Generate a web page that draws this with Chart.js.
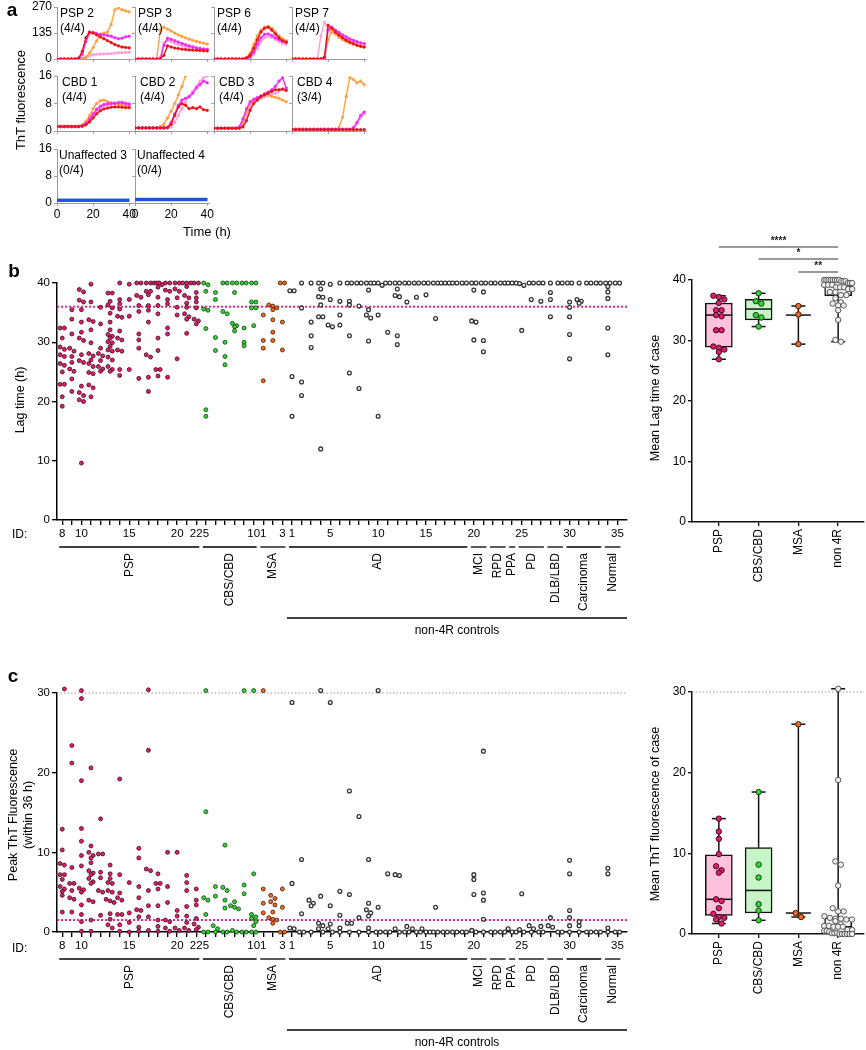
<!DOCTYPE html>
<html lang="en">
<head>
<meta charset="UTF-8">
<title>Tau seeding – ThT assay</title>
<script src="https://cdn.jsdelivr.net/npm/chart.js"></script>
<style>
  body { margin: 0; background: #fff; font-family: 'Liberation Sans', Arial, sans-serif; color: #000; }
  #fig { position: relative; width: 866px; height: 1050px; overflow: hidden; }
  #fig canvas { position: absolute; }
  .t { position: absolute; white-space: nowrap; line-height: 1; }
  .panel { font-weight: bold; font-size: 19px; }
</style>
</head>
<body>
<div id="fig"></div>
<script>
// ---------- panel a: ThT curves (every 2 h) ----------
const hours = [0,2,4,6,8,10,12,14,16,18,20,22,24,26,28,30,32,34,36,38,40];
// replicate order in every block: pink, orange, magenta, red (last one drawn on top)
const psp2 = [
  [0,0,0,0,0,0,0,0,5,15,22,25,25,26,27,28,30,32,33,34,35],
  [0,0,0,0,0,0,0,3,10,30,60,95,125,135,140,180,255,265,255,250,245],
  [0,0,0,0,0,0,0,25,90,135,138,132,128,125,122,118,110,105,108,115,118],
  [0,0,0,0,0,0,5,40,110,140,135,125,115,105,95,85,75,68,62,60,58]
];
const psp3 = [
  [0,0,0,0,0,0,0,10,85,95,90,82,75,70,65,60,57,54,52,50,48],
  [0,0,0,0,0,0,0,150,165,155,145,135,125,117,110,103,97,92,87,82,78],
  [0,0,0,0,0,0,0,0,70,108,102,95,88,80,74,68,63,58,55,52,50],
  [0,0,0,0,0,0,0,0,20,68,62,57,54,51,49,47,46,45,44,43,42]
];
const psp6 = [
  [0,0,0,0,0,0,0,0,0,0,5,25,55,90,110,118,112,100,90,80,75],
  [0,0,0,0,0,0,0,0,0,8,30,75,120,150,165,170,160,140,120,105,95],
  [0,0,0,0,0,0,0,0,0,0,10,35,75,110,128,130,122,110,100,92,85],
  [0,0,0,0,0,0,0,0,0,5,20,55,100,140,160,165,150,130,110,95,88]
];
const psp7 = [
  [0,0,0,0,0,0,0,0,120,190,160,140,130,120,112,105,98,92,86,80,76],
  [0,0,0,0,0,0,0,0,0,0,100,145,130,112,100,90,82,76,70,66,62],
  [0,0,0,0,0,0,0,0,0,5,150,165,150,138,125,115,105,97,90,84,80],
  [0,0,0,0,0,0,0,0,0,10,175,160,140,125,110,98,88,80,72,66,62]
];
const cbd1 = [
  [1.3,1.3,1.3,1.3,1.3,1.3,1.3,1.5,2,3,4.5,5.8,6.7,7.3,7.6,7.8,8,8.3,8.5,8.2,8],
  [1.3,1.3,1.3,1.3,1.3,1.3,1.4,1.8,2.8,4.5,6.5,8,8.8,9,8.6,8.2,8,7.8,7.6,7.4,7.2],
  [1.3,1.3,1.3,1.3,1.3,1.3,1.3,1.5,2.2,3.5,5,6.3,7.2,7.7,7.9,8,8.1,8.2,8.2,8,7.8],
  [1.3,1.3,1.3,1.3,1.3,1.3,1.3,1.4,1.8,2.6,3.8,5,5.9,6.4,6.7,6.9,7,7,6.9,6.8,6.8]
];
const cbd2 = [
  [0.9,0.9,0.9,0.9,0.9,0.9,0.9,0.9,0.9,0.9,1.2,2.5,4.5,6.5,8.5,10,11.5,13,14.5,15.5,16],
  [0.9,0.9,0.9,0.9,0.9,0.9,0.9,1.2,2,3.8,5.8,8,10.5,13,16,null,null,null,null,null,null],
  [0.9,0.9,0.9,0.9,0.9,0.9,0.9,0.9,0.9,1,2.5,5,7.5,9,9.5,10,11,12.5,13.5,14.5,14],
  [0.9,0.9,0.9,0.9,0.9,0.9,0.9,0.9,0.9,1,2,4.5,7,8,7.5,6.5,6.8,6.5,7,6.2,6]
];
const cbd3 = [
  [0.8,0.8,0.8,0.8,0.8,0.8,0.8,0.9,2,4.5,7,8.5,9,9.5,10,10.3,10.6,11,11.5,12,12],
  [0.8,0.8,0.8,0.8,0.8,0.8,0.8,1,2.5,5.5,8,9,9.5,10,10.5,10.5,10,9.8,9.5,9,8.5],
  [0.8,0.8,0.8,0.8,0.8,0.8,0.8,1.2,3.5,6.5,8.5,9.2,9.7,10.2,10.8,11.3,12,13,14.5,15.5,12.5],
  [0.8,0.8,0.8,0.8,0.8,0.8,0.8,0.8,1.2,3,6,8,9,10,10.5,11,11.5,12,12,12.2,11.8]
];
const cbd4 = [
  [0.5,0.5,0.5,0.5,0.5,0.5,0.5,0.5,0.5,0.5,0.5,0.5,0.5,0.5,0.5,0.5,0.5,0.8,2,3.8,5],
  [0.5,0.5,0.5,0.5,0.5,0.5,0.5,0.5,0.5,0.5,0.5,0.5,0.5,1,4,10,15.5,15,14,14.5,13.5],
  [0.5,0.5,0.5,0.5,0.5,0.5,0.5,0.5,0.5,0.5,0.5,0.5,0.5,0.5,0.5,0.5,0.5,1,2.5,4.5,5.5],
  [0.4,0.4,0.4,0.4,0.4,0.4,0.4,0.4,0.4,0.4,0.4,0.4,0.4,0.4,0.4,0.4,0.4,0.4,0.4,0.4,0.4]
];
// unaffected controls: four blue/green replicates
const unaff3 = [
  [0.85,0.85,0.85,0.85,0.85,0.85,0.85,0.85,0.85,0.85,0.85,0.85,0.85,0.85,0.85,0.85,0.85,0.85,0.85,0.85,0.85],
  [0.7,0.7,0.7,0.7,0.7,0.7,0.7,0.7,0.7,0.7,0.7,0.7,0.7,0.7,0.7,0.7,0.7,0.7,0.7,0.7,0.7],
  [0.9,0.9,0.9,0.9,0.9,0.9,0.9,0.9,0.9,0.9,0.9,0.9,0.9,0.9,0.9,0.9,0.9,0.9,0.9,0.9,0.9],
  [0.8,0.8,0.8,0.8,0.8,0.8,0.8,0.8,0.8,0.8,0.8,0.8,0.8,0.8,0.8,0.8,0.8,0.8,0.8,0.8,0.8]
];
const unaff4 = [
  [1.2,1.2,1.2,1.2,1.2,1.2,1.2,1.2,1.2,1.2,1.2,1.2,1.2,1.2,1.2,1.2,1.2,1.2,1.2,1.2,1.2],
  [0.9,0.9,0.9,0.9,0.9,0.9,0.9,0.9,0.9,0.9,0.9,0.9,0.9,0.9,0.9,0.9,0.9,0.9,0.9,0.9,0.9],
  [1.1,1.1,1.1,1.1,1.1,1.1,1.1,1.1,1.1,1.1,1.1,1.1,1.1,1.1,1.1,1.1,1.1,1.1,1.1,1.1,1.1],
  [1.0,1.0,1.0,1.0,1.0,1.0,1.0,1.0,1.0,1.0,1.0,1.0,1.0,1.0,1.0,1.0,1.0,1.0,1.0,1.0,1.0]
];
const aNames = ['PSP 2','PSP 3','PSP 6','PSP 7','CBD 1','CBD 2','CBD 3','CBD 4','Unaffected 3','Unaffected 4'];
const aFracs = ['(4/4)','(4/4)','(4/4)','(4/4)','(4/4)','(4/4)','(4/4)','(3/4)','(0/4)','(0/4)'];

// ---------- panels b/c: per-case replicates ----------
const pspIds = [8,9,10,11,12,13,14,15,16,17,18,19,20,21,22];
const cbsIds = [5,6,7,8,9,10];
const msaIds = [1,2,3];
const ctrlIds = [1,2,3,4,5,6,7,8,9,10,11,12,13,14,15,16,17,18,19,20,21,22,23,24,25,26,27,28,29,30,31,32,33,34,35];
const pspShown = [8,10,15,20,22];
const cbsShown = [5,10];
const msaShown = [1,3];
const ctrlShown = [1,5,10,15,20,25,30,35];
const groupNames = ['PSP','CBS/CBD','MSA','AD','MCI','RPD','PPA','PD','DLB/LBD','Carcinoma','Normal'];
const groupSizes = [15,6,3,19,2,2,1,3,2,4,2];

// lag time (h), one list per case
const lagPSP = [
  [32.4,32.4,30.7,29.2,28.8,27.9,27.6,26.4,26.1,25.0,22.9,22.9,20.8,19.2],
  [35.5,33.9,31.4,29.0,28.5,27.6,26.6,25.5,25.1,23.8,21.7],
  [38.9,38.5,37.1,36.8,35.5,33.4,31.7,30.7,30.3,27.9,26.9,26.6,22.6,21.5,21.0,20.3,20.0,9.6],
  [39.8,36.8,33.8,33.5,32.1,29.9,28.1,27.7,27.0,26.4,25.9,24.9,24.7,22.8,22.3,20.8],
  [35.9,33.1,29.0,28.1,27.7,26.9,25.9,25.5,25.1],
  [38.3,38.3,36.9,36.3,35.8,34.9,33.4,32.1,31.3,31.0,30.7,30.1,29.9,29.3,28.7,28.5,27.5,27.0,25.9,25.4,25.1],
  [40,37.2,36.5,35.6,34.4,34.2,31.9,30.7,30.4,28.7,28.5,25.4,24.4],
  [39.8,37.2,34.4,25.4],
  [40,40,37.9,37.6,36.2,35.2,31.4,30.4,29.0,23.9],
  [40,40,38.6,38.6,38.0,36.2,35.4,33.4,27.9,27.5,24.1,21.7],
  [40,40,40,39.7,39.3,37.6,36.2,34.8,30.7,28.6,25.4,25.4,24.3],
  [40,40,38.8,38.6,37.2,36.5,32.4,31.4,24.1],
  [40,40,39.0,38.6,37.5,35.9,34.6,27.2],
  [40,40,40,39.4,37.9,37.5,36.6,35.9,34.8,34.3,33.9,31.5],
  [40,40,38.4,37.5,36.8,35.8,33.9,33.6,33.1]
];
const lagCBS = [
  [40,39.7,38.6,35.6,35.4,32.3,18.6,17.5],
  [38.4,37.2,30.8,28.6],
  [40,40,35.2,34.8,30.0,27.6,26.2],
  [40,40,38.4,33.2,32.8,32.6,31.9],
  [40,40,32.4,30.0,29.4],
  [40,40,36.8,36.8,35.8,35.8,32.8]
];
const lagMSA = [
  [34.6,30.3,29.0,23.5],
  [36.3,36.1,35.8,35.5,33.8,31.7,30.3],
  [40,40,33.4,28.7]
];
const lagCtrl = [
  [38.7,38.7,24.2,17.5],[40,35.8,23.3,21.0],[40,33.4,31.1,29.1],[40,40,39.0,37.7,37.6,36.3,34.3,34.3,12.0],
  [39.8,37.2,32.9,32.6],[40,36.9,34.6,32.9],[40,40,36.9,36.3,31.1,24.8],[40,40,36.1,22.2],
  [40,40,38.8,35.5,34.6,34.1,30.2],[40,40,39.6,34.6,17.5],[40,40,31.7],[40,40,39.0,37.9,37.7,31.1,29.6],
  [40,40,36.8],[40,40,37.6],[40,40,38.0],[40,40,34.0],[40,40,40],[40,40],[40,40],
  [40,40,38.8,33.6,33.4,30.4],[40,40,38.5,30.3,28.4],[40,40],[40,40],[40,40,40],
  [39.9,39.6,32.0],[40,40,37.2],[40,40,36.9],[40,38.4,37.2,34.3],[40,40],
  [40,40,36.8,35.9,34.3,31.3,27.2],[40,37.2,36.9,36.6],[40,40],[40,40],
  [40,40,39.4,38.5,37.4,32.4,27.9],[40,40]
];

// peak ThT fluorescence within 36 h, one list per case
const peakPSP = [
  [30.8,30.5,12.9,10.3,8.6,8.4,7.2,7.2,6.6,5.7,5.4,5.1,4.6,2.5],
  [23.4,21.2,8.1,6.1,6.1,5.2,4.3,4.1,2.5],
  [31.3,31.0,30.8,30.3,29.3,19.0,13.0,11.4,9.6,8.3,5.5,5.3,5.0,3.4,2.2,1.3,0.1],
  [20.6,10.8,10.0,9.6,9.3,8.7,7.7,7.4,7.2,6.7,6.3,6.1,4.0,3.8,1.5,0.1],
  [14.2,9.8,9.8,7.5,6.8,5.2,5.0,2.1],
  [8.4,7.3,6.7,6.2,6.1,5.2,5.0,4.1,3.9,3.7,2.3,1.6,0.9,0.5],
  [19.2,7.2,4.9,4.3,4.0,2.2,2.2,0.9,0.1],
  [6.2,2.4,1.2,0],
  [10.5,9.3,5.7,4.3,2.8,2.7,1.9,0.6,0.1],
  [30.4,22.8,7.9,7.7,5.2,3.3,1.9,0.2],
  [7.3,6.1,6.1,5.4,3.3,1.5,0.7,0.1],
  [10.0,5.7,3.7,1.5,1.3,0.5,0.1],
  [10.0,2.7,2.0,0.5,0.2],
  [7.1,6.2,5.2,3.2,2.0,1.2,0.5,0.2],
  [5.4,4.0,3.4,1.7,1.0,0.6,0.3]
];
const peakCBS = [
  [30.3,15.1,4.3,4.0,2.2,0,0],
  [5.7,4.5,0.8,0.4,0],
  [10.9,5.6,5.2,4.0,3.0,0,0],
  [3.8,3.3,3.1,2.9,0.2,0],
  [30.3,5.9,4.8,0,0],
  [30.3,7.3,2.2,1.9,1.7,1.3,0.8,0,0]
];
const peakMSA = [
  [30.3,5.4,3.6,2.4],
  [4.6,4.2,3.8,3.4,2.5,1.8,1.6,1.5,1.1],
  [5.4,3.1,0,0]
];
const peakCtrl = [
  [28.8,6.1,0.5,0.4],[9.1,2.3,0,0],[4.0,3.6,3.3,0],[30.3,4.5,1.1,0.8,0.4,0],
  [28.8,3.3,1.0,0.4,0],[5.1,2.1,0.5,0],[17.7,4.7,1.1,1.1,0],[14.5,1.8,0],
  [9.1,3.6,2.8,2.4,2.0,0.5,0],[30.3,3.1,0,0],[7.3,0,0],[7.1,7.2,0.4,0],
  [0.7,0,0],[0.4,0,0],[0.4,0,0],[3.1,0,0],[0,0],[0,0],[0,0],
  [7.2,6.6,4.7,0.2,0],[22.7,4.9,4.0,1.6,0],[0,0],[0,0],[0.4,0,0],
  [4.8,0.3,0],[0.8,0.4,0],[0.7,0,0],[1.8,0.8,0.6],[0,0],
  [9.0,7.3,2.7,1.8,0.8,0],[1.3,0.8,0],[0,0],[0,0],
  [8.0,7.3,0.5,0],[0,0]
];

// ---------- box plots: mean per case ----------
const boxGroups = ['PSP','CBS/CBD','MSA','non 4R'];
const lagMin = [26.9, 32.3, 29.4, 29.8];
const lagQ1  = [28.9, 33.4, null, 37.4];
const lagMed = [34.2, 35.2, 34.2, 39.0];
const lagQ3  = [36.2, 36.8, null, 40.0];
const lagMax = [37.4, 37.8, 35.7, 40.0];
const meanLagPSP = [37.4,37.2,36.8,36.2,35.0,35.0,34.2,34.0,31.7,31.7,29.0,28.8,28.5,28.1,26.9];
const meanLagCBS = [37.8,36.5,36.1,34.2,33.8,32.3];
const meanLagMSA = [35.7,34.3,29.4];
const meanLagCtrl = [40,40,40,40,40,40,40,40,39.8,39.8,39.8,39.5,39.5,39.5,39.2,39.2,39.2,38.8,38.8,38.8,
                     38.5,38.5,38.0,38.0,37.5,37.5,37.0,36.3,36.1,35.8,35.8,35.0,33.4,30.1,29.8];
const peakMin = [1.3, 1.7, 2.1, 0];
const peakQ1  = [2.3, 2.6, null, 0.1];
const peakMed = [4.3, 5.4, 2.6, 0.9];
const peakQ3  = [9.8, 10.7, null, 2.0];
const peakMax = [14.3, 17.6, 26.0, 30.4];
const meanPeakPSP = [14.3,12.7,11.8,9.9,8.4,7.9,7.6,4.3,4.1,3.2,2.5,2.1,2.0,1.8,1.3];
const meanPeakCBS = [17.6,8.6,7.0,3.7,2.9,1.7];
const meanPeakMSA = [26.0,2.6,2.1];
const meanPeakCtrl = [30.4,19.1,9.0,8.6,6.0,3.2,2.8,2.8,2.2,2.0,1.9,1.9,1.8,1.8,1.6,1.2,1.0,1.0,0.9,0.9,
                      0.9,0.5,0.5,0.4,0.4,0.3,0.1,0.1,0.1,0,0,0,0,0,0];

// ---------- helpers ----------
const FONT = "'Liberation Sans', Arial, Helvetica, sans-serif";
Chart.defaults.font.family = FONT;
Chart.defaults.color = '#000';
Chart.defaults.animation = false;
Chart.defaults.plugins.legend.display = false;
Chart.defaults.plugins.tooltip.enabled = false;

const fig = document.getElementById('fig');

function text(str, x, y, size, opt = {}) {
  const d = document.createElement('div');
  d.className = 't' + (opt.cls ? ' ' + opt.cls : '');
  d.textContent = str;
  d.style.fontSize = size + 'px';
  d.style.left = x + 'px';
  d.style.top = y + 'px';
  let tf = opt.left ? 'translate(0,-50%)' : 'translate(-50%,-50%)';
  if (opt.rot) tf += ' rotate(-90deg)';
  d.style.transform = tf;
  fig.appendChild(d);
}

// rect = canvas box on the page, area = wanted chart area [L, T, R, B]
// (every side needs at least the largest point overflow as padding)
function makeChart(rect, area, yw, xh, cfg) {
  const [cx, cy, cw, ch] = rect, [L, T, R, B] = area;
  const c = document.createElement('canvas');
  c.width = cw; c.height = ch;
  c.style.left = cx + 'px'; c.style.top = cy + 'px';
  c.style.width = cw + 'px'; c.style.height = ch + 'px';
  fig.appendChild(c);
  const o = cfg.options;
  o.responsive = false;
  o.devicePixelRatio = 1;
  o.layout = {padding: {left: L - cx - yw, top: T - cy, right: cx + cw - R, bottom: cy + ch - B - xh}};
  o.scales.x.afterFit = s => { s.height = xh; s.paddingLeft = s.paddingRight = s.paddingTop = s.paddingBottom = 0; };
  o.scales.y.afterFit = s => { s.width = yw; s.paddingLeft = s.paddingRight = s.paddingTop = s.paddingBottom = 0; };
  return new Chart(c, cfg);
}

// rows of near-equal values are spread side by side (pixel offsets)
function swarm(vals, ppuY, d, maxW) {
  const order = vals.map((v, i) => i).sort((a, b) => vals[b] - vals[a]);
  const off = vals.map(() => 0);
  let row = [];
  const flush = () => {
    const n = row.length, step = n > 1 ? Math.min(d, maxW / (n - 1)) : 0;
    row.forEach((i, j) => { off[i] = (j - (n - 1) / 2) * step; });
    row = [];
  };
  order.forEach(i => {
    if (row.length && (vals[row[0]] - vals[i]) * ppuY > d * 0.8) flush();
    row.push(i);
  });
  flush();
  return off;
}

function axisStyle(color, width, tick) {
  return {
    offset: false,
    border: {display: true, color: color, width: width},
    grid: {offset: false, drawOnChartArea: false, drawTicks: true, tickLength: tick, color: color, lineWidth: width * 0.9}
  };
}

// ---------- panel a ----------
const aCols = [57, 135, 214, 292];
const aRows = [[7, 59], [76, 131], [149, 203]];
const aW = 74;
const warm = ['#ff9ed8', '#ffa040', '#f52bf5', '#e8141c'];
const cool = ['#1fa07a', '#3f7bff', '#1533b8', '#2350e6'];
const aData = [psp2, psp3, psp6, psp7, cbd1, cbd2, cbd3, cbd4, unaff3, unaff4];

aData.forEach((reps, k) => {
  const r = Math.floor(k / 4), c = k % 4;
  const L = aCols[c], R = L + aW, [T, B] = aRows[r];
  const yMax = r === 0 ? 270 : 16;
  const colors = r === 2 ? cool : warm;
  const firstCol = c === 0, lastRow = r === 2;
  const ax = axisStyle('#9a9a9a', 1, 3);
  makeChart([L - 32, T - 8, aW + 42, B - T + 32], [L, T, R, B], 28, lastRow ? 18 : 4, {
    type: 'line',
    data: {datasets: reps.map((vals, j) => ({
      data: vals.map((v, i) => ({x: hours[i], y: v})),
      borderColor: colors[j], backgroundColor: colors[j],
      borderWidth: r === 2 ? 2.6 : 1.4,
      pointRadius: r === 2 ? 0 : 1.3, pointBorderWidth: 0.6,
      pointBackgroundColor: colors[j], tension: 0,
      order: reps.length - j
    }))},
    options: {scales: {
      x: Object.assign({type: 'linear', min: 0, max: 41,
        afterBuildTicks: s => { s.ticks = [0, 20, 40].map(v => ({value: v})); },
        ticks: {display: lastRow, font: {size: 12}, padding: 1, maxRotation: 0, minRotation: 0}}, ax),
      y: Object.assign({type: 'linear', min: 0, max: yMax,
        afterBuildTicks: s => { s.ticks = [0, yMax / 2, yMax].map(v => ({value: v})); },
        ticks: {display: firstCol, font: {size: 12}, padding: 2}}, ax)
    }}
  });
  const dx = [3, 5, 2][r];
  text(aNames[k], L + dx, T + 6, 12, {left: true});
  text(aFracs[k], L + dx, T + 21, 12, {left: true});
});

// ---------- panels b / c scatter ----------
const caseGroups = [
  {ids: pspIds, shown: pspShown, lag: lagPSP, peak: peakPSP, fill: '#e8196f', edge: '#33101c', r: 2.0, bw: 0.8},
  {ids: cbsIds, shown: cbsShown, lag: lagCBS, peak: peakCBS, fill: '#2ddc2d', edge: '#17361a', r: 2.0, bw: 0.8},
  {ids: msaIds, shown: msaShown, lag: lagMSA, peak: peakMSA, fill: '#f26b1d', edge: '#3b1a08', r: 2.0, bw: 0.8},
  {ids: ctrlIds, shown: ctrlShown, lag: lagCtrl, peak: peakCtrl, fill: '#ffffff', edge: '#333333', r: 1.9, bw: 1.3}
];
const tickText = [];
caseGroups.forEach(g => g.ids.forEach(id => tickText.push(g.shown.includes(id) ? String(id) : '')));
const X_MIN = -0.55, X_MAX = 59.0;

const groupPlugin = {
  id: 'groups',
  afterDraw(chart) {
    const {ctx, chartArea} = chart, x = chart.scales.x, base = chartArea.bottom;
    ctx.save();
    ctx.strokeStyle = '#000'; ctx.fillStyle = '#000'; ctx.lineWidth = 1.3;
    ctx.font = '12px ' + FONT;
    let start = 0;
    groupNames.forEach((name, g) => {
      const end = start + groupSizes[g] - 1;
      const x1 = x.getPixelForValue(start) - 3, x2 = x.getPixelForValue(end) + 3;
      ctx.beginPath(); ctx.moveTo(x1, base + 27); ctx.lineTo(x2, base + 27); ctx.stroke();
      ctx.save();
      ctx.translate((x1 + x2) / 2, base + 33);
      ctx.rotate(-Math.PI / 2);
      ctx.textAlign = 'right'; ctx.textBaseline = 'middle';
      ctx.fillText(name, 0, 0);
      ctx.restore();
      start = end + 1;
    });
    const c0 = pspIds.length + cbsIds.length + msaIds.length;
    const n1 = x.getPixelForValue(c0) - 5, n2 = chartArea.right;
    ctx.beginPath(); ctx.moveTo(n1, base + 98); ctx.lineTo(n2, base + 98); ctx.stroke();
    ctx.textAlign = 'center'; ctx.textBaseline = 'middle';
    ctx.fillText('non-4R controls', (n1 + n2) / 2, base + 111);
    ctx.restore();
  }
};

function refLine(y, color, dash, width, xmin, xmax) {
  return {type: 'line', data: [{x: xmin, y: y}, {x: xmax, y: y}], borderColor: color,
          borderDash: dash, borderWidth: width, pointRadius: 0, order: 5, clip: false};
}

function scatterPanel(key, rect, area, yMax, refs) {
  const ppuY = (area[3] - area[1]) / yMax, ppuX = (area[2] - area[0]) / (X_MAX - X_MIN);
  let col = 0;
  const sets = caseGroups.map(g => {
    const pts = [];
    g[key].forEach(vals => {
      const off = swarm(vals, ppuY, 4.3, 8);
      vals.forEach((v, i) => pts.push({x: col + off[i] / ppuX, y: v}));
      col++;
    });
    return {type: 'scatter', data: pts, backgroundColor: g.fill, borderColor: g.edge,
            pointRadius: g.r, borderWidth: g.bw, clip: false, order: 0};
  });
  const ax = axisStyle('#000', 1.5, 5);
  const yTicks = [];
  for (let v = 0; v <= yMax; v += 10) yTicks.push({value: v});
  return makeChart(rect, area, 40, 20, {
    type: 'scatter',
    data: {datasets: sets.concat(refs.map(r => refLine(r[0], r[1], r[2], r[3], X_MIN, X_MAX)))},
    options: {scales: {
      x: Object.assign({type: 'linear', min: X_MIN, max: X_MAX,
        afterBuildTicks: s => { s.ticks = tickText.map((t, i) => ({value: i})); },
        ticks: {font: {size: 11.5}, padding: 2, autoSkip: false, maxRotation: 0, minRotation: 0,
                callback: v => tickText[v]}}, ax),
      y: Object.assign({type: 'linear', min: 0, max: yMax,
        afterBuildTicks: s => { s.ticks = yTicks; },
        ticks: {font: {size: 11.5}, padding: 2}}, ax)
    }},
    plugins: [groupPlugin]
  });
}

scatterPanel('lag', [0, 265, 640, 375], [57, 283, 627, 520], 40,
  [[36, '#ff1a8c', [2, 2], 2]]);
scatterPanel('peak', [0, 680, 640, 370], [57, 693, 627, 932], 30,
  [[30, '#9a9a9a', [1.5, 2], 1.2], [1.5, '#ff1a8c', [2, 2], 2]]);

// ---------- box plots ----------
const sigPlugin = {
  id: 'sig',
  afterDraw(chart, args, opts) {
    if (!opts.bars) return;
    const {ctx} = chart, x = chart.scales.x;
    ctx.save();
    ctx.strokeStyle = '#777'; ctx.fillStyle = '#222'; ctx.lineWidth = 1.3;
    ctx.font = 'bold 10px ' + FONT; ctx.textAlign = 'center'; ctx.textBaseline = 'bottom';
    opts.bars.forEach(([a, b, y, label]) => {
      const x1 = x.getPixelForValue(a), x2 = x.getPixelForValue(b);
      ctx.beginPath(); ctx.moveTo(x1, y); ctx.lineTo(x2, y); ctx.stroke();
      ctx.fillText(label, (x1 + x2) / 2, y - 1);
    });
    ctx.restore();
  }
};

const dotFill = ['#e8196f', '#2ddc2d', '#f26b1d', '#f0f0f0'];
const dotEdge = ['#33101c', '#17361a', '#3b1a08', '#555555'];
const boxFill = ['#ffc1dc', '#c8f5c8', '#ffffff', '#f3f3f3'];

function boxPanel(rect, area, yMax, stats, means, refs, sig) {
  const [mn, q1, md, q3, mx] = stats;
  const BX0 = -0.675, BX1 = 3.65;
  const ppuY = (area[3] - area[1]) / yMax, ppuX = (area[2] - area[0]) / (BX1 - BX0);
  const sets = [];
  means.forEach((vals, g) => {
    const off = swarm(vals, ppuY, 5.5, 28);
    sets.push({type: 'scatter', data: vals.map((v, i) => ({x: g + off[i] / ppuX, y: v})),
      backgroundColor: dotFill[g], borderColor: dotEdge[g], borderWidth: 1, pointRadius: 2.7,
      clip: false, order: 0});
    sets.push({type: 'line', data: [{x: g, y: mn[g]}, {x: g, y: mx[g]}], borderColor: '#111',
      borderWidth: 1.5, pointRadius: 0, order: 4, clip: false});
  });
  const boxIdx = q1.map((v, g) => g).filter(g => q1[g] !== null);
  sets.push({type: 'bar', data: boxIdx.map(g => ({x: g, y: [q1[g], q3[g]]})),
    backgroundColor: boxIdx.map(g => boxFill[g]),
    borderColor: '#111', borderWidth: 1.5, borderSkipped: false, barThickness: 27, grouped: false, order: 3});
  sets.push({type: 'scatter', data: mn.map((v, g) => ({x: g, y: v})).concat(mx.map((v, g) => ({x: g, y: v}))),
    pointStyle: 'line', pointRadius: 7, borderColor: '#111', borderWidth: 1.5, clip: false, order: 2});
  sets.push({type: 'scatter', data: md.map((v, g) => ({x: g, y: v})),
    pointStyle: 'line', pointRadius: md.map((v, g) => q1[g] === null ? 12.5 : 13.5),
    borderColor: '#111', borderWidth: 1.5, clip: false, order: 2});
  refs.forEach(r => sets.push(refLine(r[0], r[1], r[2], r[3], BX0, BX1)));
  const ax = axisStyle('#111', 1.5, 4);
  const yTicks = [];
  for (let v = 0; v <= yMax; v += 10) yTicks.push({value: v});
  makeChart(rect, area, 30, 60, {
    type: 'scatter',
    data: {datasets: sets},
    options: {
      scales: {
        x: Object.assign({type: 'linear', min: BX0, max: BX1,
          afterBuildTicks: s => { s.ticks = boxGroups.map((t, i) => ({value: i})); },
          ticks: {font: {size: 12}, padding: 3, autoSkip: false, maxRotation: 90, minRotation: 90,
                  callback: v => boxGroups[v]}}, ax),
        y: Object.assign({type: 'linear', min: 0, max: yMax,
          afterBuildTicks: s => { s.ticks = yTicks; },
          ticks: {font: {size: 12}, padding: 2}}, ax)
      },
      plugins: {sig: {bars: sig}}
    },
    plugins: [sigPlugin]
  });
}

boxPanel([640, 235, 244, 365], [692, 280, 864, 522], 40,
  [lagMin, lagQ1, lagMed, lagQ3, lagMax],
  [meanLagPSP, meanLagCBS, meanLagMSA, meanLagCtrl], [],
  [[0, 3, 12, '****'], [1, 3, 24, '*'], [2, 3, 37, '**']]);
boxPanel([640, 670, 244, 340], [692, 692, 864, 934], 30,
  [peakMin, peakQ1, peakMed, peakQ3, peakMax],
  [meanPeakPSP, meanPeakCBS, meanPeakMSA, meanPeakCtrl],
  [[30, '#9a9a9a', [1.5, 2], 1.2]], null);

// ---------- text ----------
text('a', 12, 9, 19, {cls: 'panel'});
text('b', 14, 270, 19, {cls: 'panel'});
text('c', 13, 675, 19, {cls: 'panel'});
text('ThT fluorescence', 20, 100, 13, {rot: true});
text('Time (h)', 207, 231, 13);
text('Lag time (h)', 20, 400, 12.5, {rot: true});
text('ID:', 12, 534, 12, {left: true});
text('ID:', 12, 948, 12, {left: true});
text('Mean Lag time of case', 655, 398, 12.5, {rot: true});
text('Peak ThT Fluorescence', 13, 815, 12.5, {rot: true});
text('(within 36 h)', 28, 815, 12.5, {rot: true});
text('Mean ThT fluorescence of case', 655, 814, 12.5, {rot: true});
</script>
</body>
</html>
